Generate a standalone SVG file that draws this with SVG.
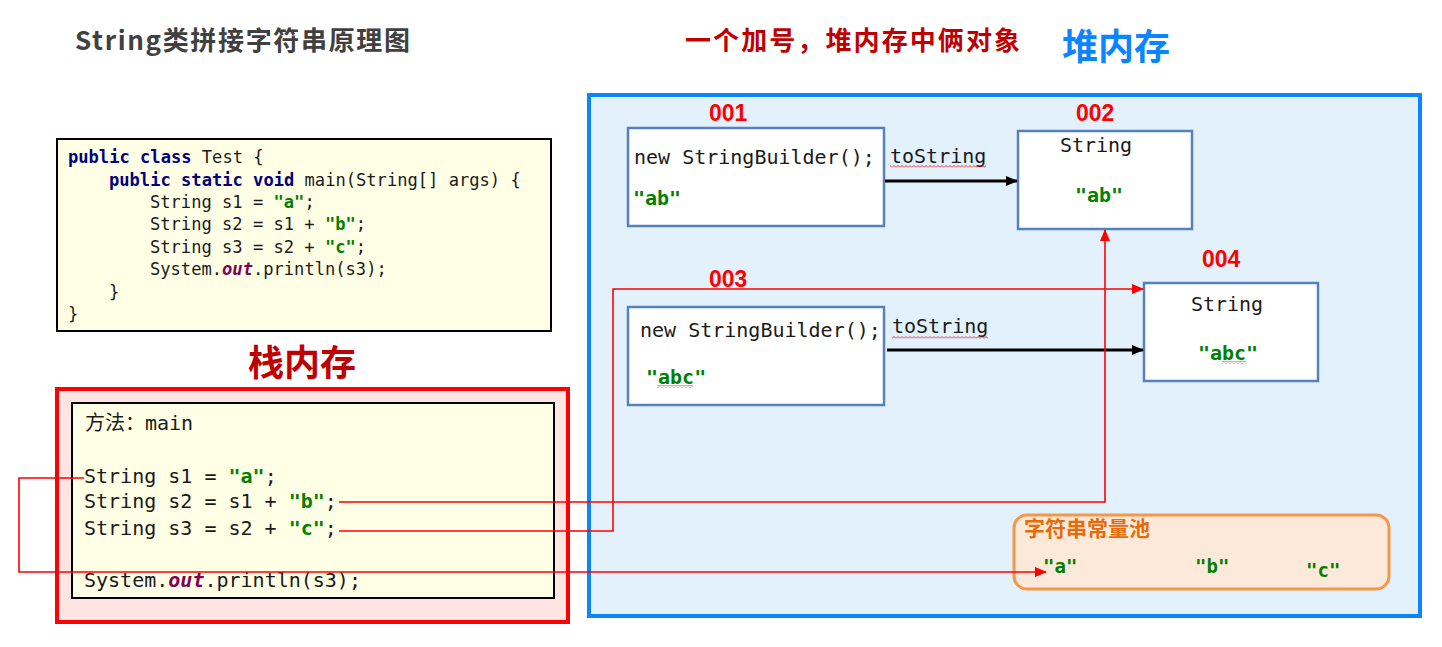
<svg xmlns="http://www.w3.org/2000/svg" width="1442" height="647" viewBox="0 0 1442 647">
<style>
.mono{font-family:"DejaVu Sans Mono","Liberation Mono",monospace;fill:#1a1a1a}
.code{font-size:17.1px}
.big{font-size:20px}
.kw{fill:#000080;font-weight:bold}
.str{fill:#008000;font-weight:bold}
.out{fill:#7f0055;font-weight:bold;font-style:italic}
.addr{font-family:"Liberation Sans",Arial,sans-serif;font-weight:bold;font-size:23px;fill:#ff0000}
.cjk{font-family:"Noto Sans CJK SC","Noto Sans",sans-serif;font-weight:bold}
.obj{fill:#ffffff;stroke:#5582bf;stroke-width:2.5}
.red{stroke:#ff0000;stroke-width:1.6;fill:none}
.blk{stroke:#000000;stroke-width:3;fill:none}
</style>
<defs>
<marker id="ab" markerUnits="userSpaceOnUse" markerWidth="12" markerHeight="10" refX="11" refY="5" orient="auto"><path d="M0,0 L12,5 L0,10 z" fill="#000"/></marker>
<marker id="ar" markerUnits="userSpaceOnUse" markerWidth="12" markerHeight="10" refX="11" refY="5" orient="auto"><path d="M0,0 L12,5 L0,10 z" fill="#ff0000"/></marker>
<pattern id="wavy" width="4" height="3" patternUnits="userSpaceOnUse"><path d="M0,2.5 L2,0.5 L4,2.5" stroke="#e00000" fill="none" stroke-width="0.8"/></pattern>
</defs>
<rect width="1442" height="647" fill="#ffffff"/>

<g id="titles">
<text class="cjk" x="75" y="50" font-size="26" fill="#404040" textLength="335">String类拼接字符串原理图</text>
<text class="cjk" x="685" y="50" font-size="26" fill="#c00000" textLength="335">一个加号，堆内存中俩对象</text>
<text class="cjk" x="1062" y="60" font-size="36" fill="#0a84ff">堆内存</text>
<text class="cjk" x="248" y="376" font-size="36" fill="#c00000">栈内存</text>
</g>

<g id="code">
<rect x="57" y="139" width="494" height="192" fill="#ffffe5" stroke="#000" stroke-width="2"/>
<text class="mono code" x="68" y="163"><tspan class="kw">public</tspan> <tspan class="kw">class</tspan> Test {</text>
<text class="mono code" x="109" y="185.5"><tspan class="kw">public</tspan> <tspan class="kw">static</tspan> <tspan class="kw">void</tspan> main(String[] args) {</text>
<text class="mono code" x="150" y="208">String s1 = <tspan class="str">"a"</tspan>;</text>
<text class="mono code" x="150" y="230">String s2 = s1 + <tspan class="str">"b"</tspan>;</text>
<text class="mono code" x="150" y="253">String s3 = s2 + <tspan class="str">"c"</tspan>;</text>
<text class="mono code" x="150" y="275">System.<tspan class="out">out</tspan>.println(s3);</text>
<text class="mono code" x="109" y="298">}</text>
<text class="mono code" x="68" y="320">}</text>
</g>

<g id="stack">
<rect x="57" y="389" width="511" height="233" fill="#ffe4e4" stroke="#ff0000" stroke-width="4"/>
<rect x="72" y="403" width="482" height="195" fill="#ffffe5" stroke="#000" stroke-width="2"/>
<text class="mono big" x="85" y="430"><tspan font-family="Noto Sans CJK SC,sans-serif">方法：</tspan>main</text>
<text class="mono big" x="84" y="483">String s1 = <tspan class="str">"a"</tspan>;</text>
<text class="mono big" x="84" y="508">String s2 = s1 + <tspan class="str">"b"</tspan>;</text>
<text class="mono big" x="84" y="535">String s3 = s2 + <tspan class="str">"c"</tspan>;</text>
<text class="mono big" x="84" y="587">System.<tspan class="out">out</tspan>.println(s3);</text>
</g>

<g id="heap">
<rect x="589" y="95" width="831" height="521" fill="#e3f1fd" stroke="#0a84ff" stroke-width="4"/>
</g>

<g id="pool">
<rect x="1014" y="515" width="375" height="74" rx="13" fill="#fde9d9" stroke="#f79646" stroke-width="3"/>
<text class="cjk" x="1024" y="536" font-size="21" fill="#e46c0a">字符串常量池</text>
<text class="mono str" x="1043" y="573" font-size="19">"a"</text>
<text class="mono str" x="1195" y="573" font-size="19">"b"</text>
<text class="mono str" x="1306" y="577" font-size="19">"c"</text>
</g>

<g id="obj001">
<rect class="obj" x="628" y="128" width="256" height="98"/>
<text class="addr" x="709" y="121">001</text>
<text class="mono big" x="634" y="164">new StringBuilder();</text>
<text class="mono big str" x="633" y="205">"ab"</text>
</g>

<g id="obj002">
<rect class="obj" x="1018" y="131" width="174" height="98"/>
<text class="addr" x="1076" y="121">002</text>
<text class="mono big" x="1096" y="152" text-anchor="middle">String</text>
<text class="mono big str" x="1099" y="202" text-anchor="middle">"ab"</text>
</g>

<g id="obj003">
<rect class="obj" x="628" y="307" width="256" height="98"/>
<text class="addr" x="709" y="287">003</text>
<text class="mono big" x="640" y="337">new StringBuilder();</text>
<text class="mono big str" x="646" y="384">"abc"</text>
<rect x="657" y="385" width="36" height="3" fill="url(#wavy)"/>
</g>

<g id="obj004">
<rect class="obj" x="1144" y="283" width="174" height="98"/>
<text class="addr" x="1202" y="267">004</text>
<text class="mono big" x="1227" y="311" text-anchor="middle">String</text>
<text class="mono big str" x="1228" y="360" text-anchor="middle">"abc"</text>
<rect x="1222" y="361" width="24" height="3" fill="url(#wavy)"/>
</g>

<g id="connectors">
<text class="mono big" x="890" y="163">toString</text>
<rect x="890" y="165" width="96" height="3" fill="url(#wavy)"/>
<text class="mono big" x="892" y="333">toString</text>
<rect x="892" y="336" width="96" height="3" fill="url(#wavy)"/>
<path class="blk" d="M885,181 L1017,181" marker-end="url(#ab)"/>
<path class="blk" d="M887,350 L1143,350" marker-end="url(#ab)"/>
<path class="red" d="M84,478 L19,478 L19,572 L1046,572" marker-end="url(#ar)"/>
<path class="red" d="M339,502 L1105,502 L1105,230" marker-end="url(#ar)"/>
<path class="red" d="M339,531 L613,531 L613,289 L1143,289" marker-end="url(#ar)"/>
</g>
</svg>
